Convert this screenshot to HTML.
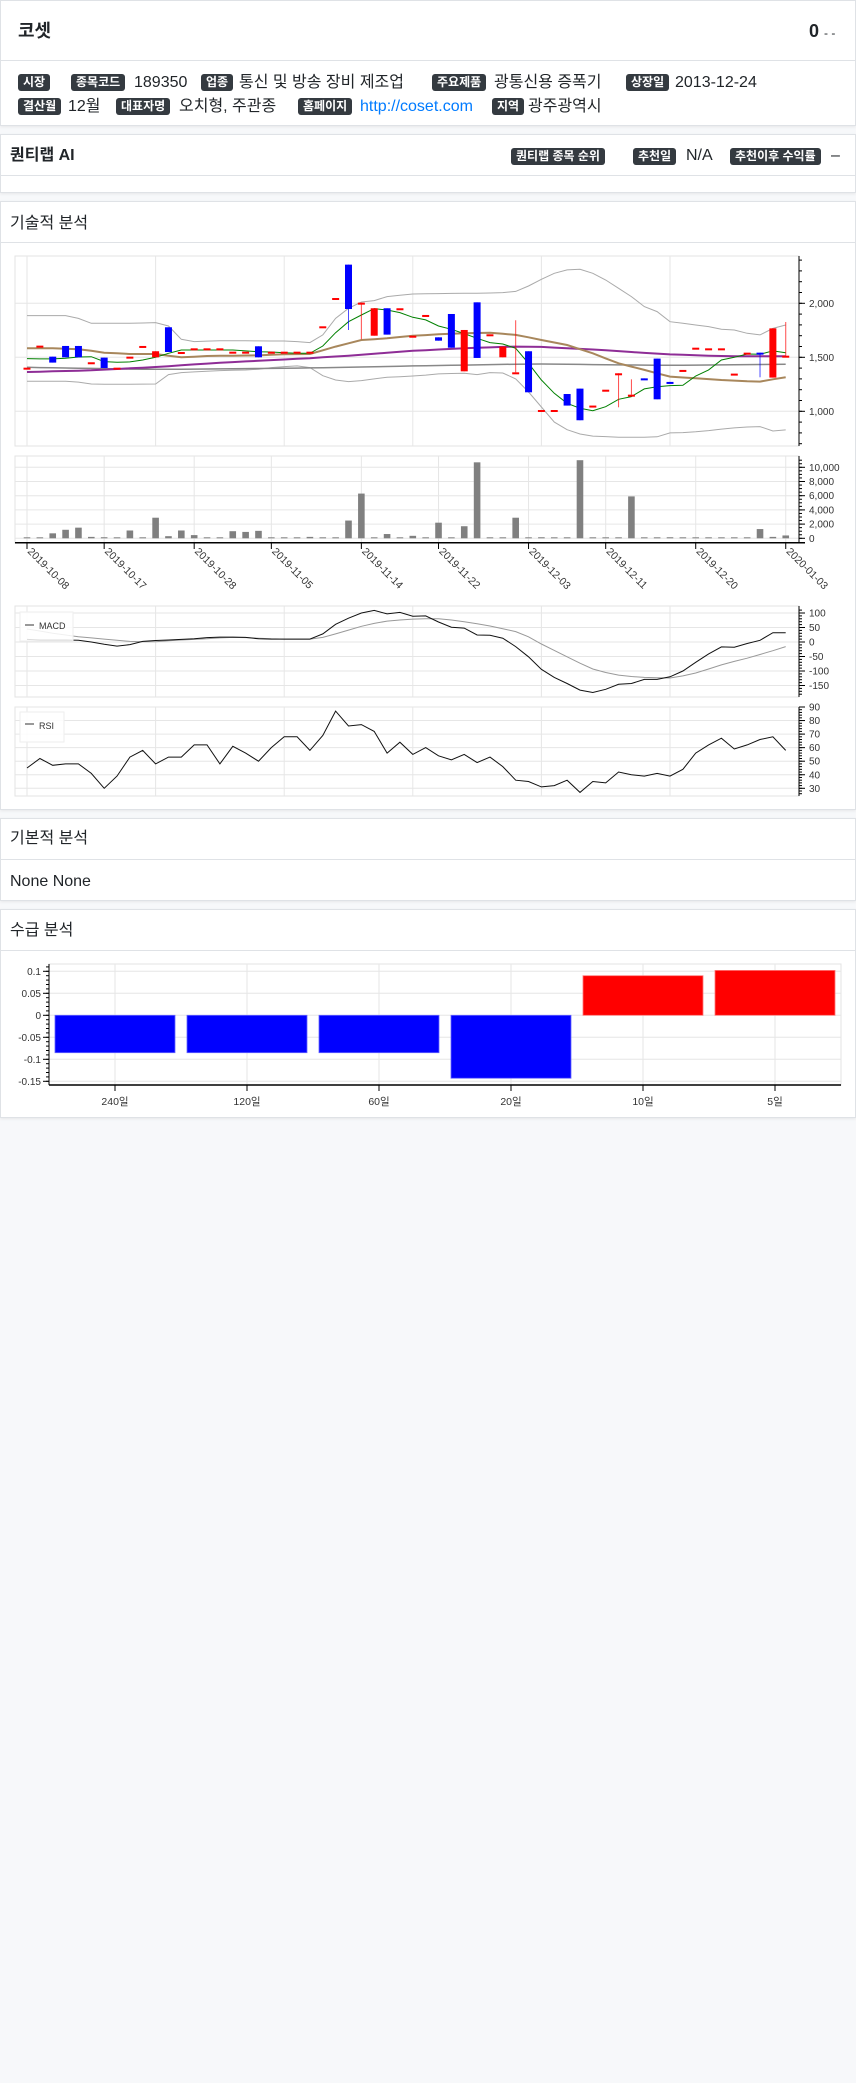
<!DOCTYPE html>
<html><head><meta charset="utf-8">
<style>
body{margin:0;background:#f7f8fa;width:856px;height:2083px;position:relative;font-family:"Liberation Sans","Noto Sans CJK KR",sans-serif;color:#212529;overflow:hidden}
.card{position:absolute;left:0;width:854px;background:#fff;border:1px solid #dfe2e6;box-shadow:0 1px 3px rgba(0,0,0,.07)}
.hd{position:absolute;left:0;right:0;top:0;border-bottom:1px solid #dfe2e6}
.t{position:absolute;white-space:nowrap;font-size:16px;line-height:18px}
.b{position:absolute;white-space:nowrap;background:#343a40;color:#fff;font-size:12px;font-weight:bold;height:17px;line-height:17px;padding:0 5px;border-radius:3px}
svg text{font-family:"Liberation Sans","Noto Sans CJK KR",sans-serif}
</style></head><body>
<div class="card" style="top:0;height:124px">
  <div class="hd" style="height:59px"></div>
  <div class="t" style="left:17px;top:20px;font-size:18px;font-weight:bold;line-height:20px">코셋</div>
  <div class="t" style="left:808px;top:20px;font-size:18px;font-weight:bold;line-height:20px">0 <span style="font-size:12px;font-weight:normal">- -</span></div>
  <span class="b" style="left:17px;top:73px">시장</span>
  <span class="b" style="left:70px;top:73px">종목코드</span>
  <span class="t" style="left:133px;top:73px">189350</span>
  <span class="b" style="left:200px;top:73px">업종</span>
  <span class="t" style="left:238px;top:73px">통신 및 방송 장비 제조업</span>
  <span class="b" style="left:431px;top:73px">주요제품</span>
  <span class="t" style="left:493px;top:73px">광통신용 증폭기</span>
  <span class="b" style="left:625px;top:73px">상장일</span>
  <span class="t" style="left:674px;top:73px">2013-12-24</span>
  <span class="b" style="left:17px;top:97px">결산월</span>
  <span class="t" style="left:67px;top:97px">12월</span>
  <span class="b" style="left:115px;top:97px">대표자명</span>
  <span class="t" style="left:178px;top:97px">오치형, 주관종</span>
  <span class="b" style="left:297px;top:97px">홈페이지</span>
  <a class="t" style="left:359px;top:97px;color:#007bff;text-decoration:none">http://coset.com</a>
  <span class="b" style="left:491px;top:97px">지역</span>
  <span class="t" style="left:527px;top:97px">광주광역시</span>
</div>
<div class="card" style="top:134px;height:57px">
  <div class="hd" style="height:40px"></div>
  <div class="t" style="left:9px;top:12px;font-weight:600">퀀티랩 AI</div>
  <span class="b" style="left:510px;top:13px">퀀티랩 종목 순위</span>
  <span class="b" style="left:632px;top:13px">추천일</span>
  <span class="t" style="left:685px;top:12px">N/A</span>
  <span class="b" style="left:729px;top:13px">추천이후 수익률</span>
  <span class="t" style="left:830px;top:12px">–</span>
</div>
<div class="card" style="top:201px;height:607px">
  <div class="hd" style="height:40px"></div>
  <div class="t" style="left:9px;top:13px">기술적 분석</div>
</div>
<div class="card" style="top:818px;height:81px">
  <div class="hd" style="height:40px"></div>
  <div class="t" style="left:9px;top:11px">기본적 분석</div>
  <div class="t" style="left:9px;top:54px">None None</div>
</div>
<div class="card" style="top:909px;height:207px">
  <div class="hd" style="height:40px"></div>
  <div class="t" style="left:9px;top:12px">수급 분석</div>
</div>
<svg id="ch" width="856" height="1130" style="position:absolute;left:0;top:0" xmlns="http://www.w3.org/2000/svg"></svg>
<script>
const dates=["2019-10-08","2019-10-17","2019-10-28","2019-11-05","2019-11-14","2019-11-22","2019-12-03","2019-12-11","2019-12-20","2020-01-03"];
const dateIdx=[0,6,13,19,26,32,39,45,52,59];
const openP=[1404,1608,1506,1605,1605,1454,1497,1404,1506,1605,1500,1778,1549,1583,1583,1583,1552,1552,1602,1552,1552,1552,1552,1787,2049,2358,2006,1700,1954,1954,1700,1892,1685,1901,1370,2009,1713,1500,1361,1556,1012,1012,1160,1210,1053,1200,1352,1154,1305,1488,1272,1383,1589,1583,1583,1349,1543,1543,1312,1515];
const closeP=[1404,1608,1451,1500,1500,1454,1401,1404,1506,1605,1556,1549,1549,1583,1583,1583,1552,1552,1500,1552,1552,1552,1552,1787,2049,1947,2006,1954,1710,1954,1700,1892,1654,1589,1753,1494,1713,1599,1361,1176,1012,1012,1053,917,1053,1200,1352,1154,1300,1111,1256,1383,1589,1583,1583,1349,1543,1530,1768,1515];
const highP=[1404,1608,1506,1605,1605,1454,1497,1404,1506,1605,1556,1778,1549,1583,1583,1583,1552,1552,1602,1552,1552,1552,1552,1787,2049,2358,2006,1954,1954,1954,1700,1892,1685,1901,1753,2009,1713,1599,1843,1556,1012,1012,1160,1210,1053,1200,1352,1296,1305,1488,1272,1383,1589,1583,1583,1349,1543,1543,1768,1827];
const lowP=[1404,1608,1451,1500,1500,1454,1401,1404,1506,1605,1500,1549,1549,1583,1583,1583,1552,1552,1500,1552,1552,1552,1552,1787,2049,1753,1667,1700,1710,1954,1700,1892,1654,1589,1370,1494,1713,1500,1361,1176,1012,1012,1053,917,1053,1200,1037,1154,1300,1111,1256,1383,1589,1583,1583,1349,1543,1315,1312,1515];
const volume=[0,0,700,1200,1500,200,150,0,1100,0,2900,300,1100,450,0,0,1000,900,1050,0,0,0,200,0,0,2500,6300,100,600,0,350,0,2200,100,1700,10700,0,0,2900,0,150,0,0,11000,0,0,0,5900,0,0,150,0,0,0,0,100,0,1300,200,400];
const ma5=[1488,1485,1485,1491,1503,1506,1460,1454,1457,1475,1500,1537,1568,1568,1568,1568,1568,1559,1552,1549,1543,1537,1537,1605,1728,1830,1892,1951,1938,1914,1870,1846,1790,1759,1719,1676,1636,1623,1583,1444,1290,1167,1074,1028,1006,1043,1111,1136,1207,1228,1238,1241,1327,1383,1475,1500,1531,1528,1559,1543];
const ma20=[1583,1583,1583,1580,1574,1560,1543,1537,1531,1531,1531,1515,1500,1506,1512,1514,1515,1517,1518,1523,1528,1530,1531,1565,1599,1630,1660,1668,1676,1688,1700,1706,1713,1718,1722,1725,1728,1718,1707,1685,1660,1637,1614,1575,1537,1490,1444,1414,1383,1352,1321,1313,1306,1298,1290,1284,1278,1275,1296,1315];
const ma60=[1364,1367,1370,1373,1376,1380,1386,1392,1398,1404,1410,1418,1426,1434,1442,1450,1456,1462,1468,1474,1480,1486,1492,1500,1507,1515,1524,1533,1542,1551,1560,1566,1572,1578,1583,1588,1592,1596,1599,1598,1596,1590,1584,1578,1572,1565,1557,1549,1541,1534,1527,1523,1519,1515,1512,1509,1509,1509,1509,1509];
const ma120=[1407,1405,1403,1401,1399,1397,1395,1393,1391,1390,1389,1389,1390,1391,1392,1393,1394,1395,1396,1397,1398,1400,1402,1404,1406,1408,1410,1412,1415,1418,1420,1422,1424,1426,1428,1430,1432,1434,1436,1437,1438,1437,1436,1434,1432,1431,1430,1429,1428,1427,1426,1427,1428,1429,1430,1431,1432,1433,1434,1435];
const bbUpper=[1886,1886,1886,1886,1860,1815,1815,1815,1815,1818,1821,1790,1667,1645,1650,1654,1654,1654,1652,1651,1651,1645,1636,1707,1861,1954,2012,2025,2062,2075,2086,2088,2090,2092,2093,2093,2095,2099,2110,2160,2222,2278,2309,2315,2278,2216,2139,2062,1969,1923,1830,1815,1799,1784,1760,1753,1722,1707,1768,1799];
const bbLower=[1278,1278,1278,1278,1270,1253,1250,1250,1250,1252,1253,1340,1358,1365,1370,1377,1380,1382,1390,1405,1414,1420,1405,1330,1290,1275,1284,1300,1315,1320,1327,1335,1346,1350,1352,1340,1358,1355,1300,1180,1040,900,830,790,770,766,760,759,760,764,800,803,810,821,835,846,855,858,818,828];
const macd=[9,7,7,7,6,0,-8,-14,-9,2,5,7,9,11,15,17,17,16,11,10,10,10,10,28,61,82,100,109,97,102,89,90,69,51,48,24,23,13,-16,-51,-94,-122,-143,-166,-174,-163,-146,-143,-129,-129,-120,-100,-70,-41,-17,-18,-5,6,32,32];
const signal=[45,38,30,24,18,14,10,6,2,1,1,4,7,9,11,14,16,15,13,11,10,10,10,16,28,41,54,64,72,76,79,80,80,76,70,63,55,46,36,18,-7,-29,-51,-73,-93,-105,-114,-119,-122,-123,-124,-117,-107,-93,-79,-67,-56,-43,-30,-16];
const rsi=[45,52,47,48,48,41,30,39,53,58,48,53,53,62,62,48,61,56,50,60,68,68,58,69,87,76,77,72,56,64,55,60,54,51,55,49,53,46,36,35,31,32,36,27,35,34,42,40,39,41,39,44,56,62,67,59,62,66,68,58];
const priceTicks=[1000,1500,2000];
const volTicks=[0,2000,4000,6000,8000,10000];
const macdTicks=[100,50,0,-50,-100,-150];
const rsiTicks=[30,40,50,60,70,80,90];
const flowCats=["240일","120일","60일","20일","10일","5일"];
const flowVals=[-0.085,-0.085,-0.085,-0.143,0.09,0.102];
const flowTicks=[0.1,0.05,0,-0.05,-0.1,-0.15];

const svg=document.getElementById('ch');
const NS='http://www.w3.org/2000/svg';
function mk(tag,at,parent){const e=document.createElementNS(NS,tag);for(const k in at)e.setAttribute(k,at[k]);(parent||svg).appendChild(e);return e;}
const X=i=>27+i*12.86;
const P=p=>357.3-(p-1500)*0.108;
const V=v=>538.3-v*0.0071;
const M=m=>642-m*0.29;
const R=r=>707+(90-r)*1.355;
const L=15,RT=799;
function fmt(n){return n.toLocaleString('en-US');}
function pane(top,bot,name){const r=mk('rect',{x:L,y:top,width:RT-L,height:bot-top,fill:'#fff',stroke:'#e3e3e3'});}
function vgrid(top,bot,xs){xs.forEach(x=>mk('line',{x1:x,x2:x,y1:top,y2:bot,stroke:'#e6e6e6'}));}
function hgrid(ys){ys.forEach(y=>mk('line',{x1:L,x2:RT,y1:y,y2:y,stroke:'#e6e6e6'}));}
function axis(top,bot,minor,fn,ticks,lab){mk('line',{x1:RT,x2:RT,y1:top,y2:bot,stroke:'#000'});
 minor.forEach(v=>{const y=fn(v);if(y>=top&&y<=bot)mk('line',{x1:RT,x2:RT+3,y1:y,y2:y,stroke:'#000'});});
 ticks.forEach(v=>{const y=fn(v);mk('line',{x1:RT,x2:RT+6,y1:y,y2:y,stroke:'#000'});const t=mk('text',{x:RT+10,y:y+3.5,'font-size':10,fill:'#333'});t.textContent=lab(v);});}
function line(arr,fn,col,w,name){const d=arr.map((v,i)=>(i?'L':'M')+X(i).toFixed(1)+' '+fn(v).toFixed(1)).join(' ');const p=mk('path',{d:d,fill:'none',stroke:col,'stroke-width':w});}
const tenX=[0,10,20,30,40,50].map(X);
// candle pane
pane(256,446,'price-pane');vgrid(256,446,tenX);hgrid(priceTicks.map(P));
const pm=[];for(let v=700;v<=2400;v+=100)pm.push(v);
axis(256,446,pm,P,priceTicks,fmt);
line(bbUpper,P,'#aaa',1,'bollinger-upper');line(bbLower,P,'#aaa',1,'bollinger-lower');
line(ma120,P,'#888',1.5,'ma120-line');line(ma60,P,'#8e2d96',2,'ma60-line');line(ma20,P,'#a8875c',2,'ma20-line');line(ma5,P,'#008000',1,'ma5-line');
openP.forEach((o,i)=>{const c=closeP[i];const col=c<o?'#0000ff':'#ff0000';const x=X(i);
 if(highP[i]!==lowP[i]){const w=mk('line',{x1:x,x2:x,y1:P(highP[i]),y2:P(lowP[i]),stroke:col,'stroke-width':1,opacity:0.7});}
 const y1=P(Math.max(o,c)),h=Math.max(2,P(Math.min(o,c))-y1);
 const r=mk('rect',{x:x-3.5,y:y1,width:7,height:h,fill:col});});
// volume pane
pane(456,543,'volume-pane');const dX=dateIdx.map(X);vgrid(456,543,dX);hgrid(volTicks.map(V));
const vm=[];for(let v=0;v<=11000;v+=500)vm.push(v);
axis(456,543,vm,V,volTicks,fmt);
volume.forEach((v,i)=>{const y=V(v);const r=mk('rect',{x:X(i)-3.3,y:Math.min(y,537.3),width:6.6,height:Math.max(1,538.3-y),fill:'#808080'});});
mk('line',{x1:L,x2:RT+6,y1:542.7,y2:542.7,stroke:'#000','stroke-width':1.5});
dates.forEach((d,k)=>{const x=X(dateIdx[k]);mk('line',{x1:x,x2:x,y1:542.7,y2:549,stroke:'#000'});
 const t=mk('text',{x:x,y:552,'font-size':10.5,fill:'#333',transform:`rotate(45 ${x} 552)`});t.textContent=d;});
// macd pane
pane(606,697,'macd-pane');vgrid(606,697,tenX);hgrid(macdTicks.map(M));
const mm=[];for(let v=-180;v<=110;v+=10)mm.push(v);
axis(606,697,mm,M,macdTicks,v=>String(v));
line(signal,M,'#999',1,'macd-signal-line');line(macd,M,'#111',1,'macd-line');
const lg=mk('rect',{x:20,y:612,width:53,height:29,fill:'#fff','fill-opacity':0.85,stroke:'#eee'});
mk('line',{x1:25,x2:34,y1:625,y2:625,stroke:'#777','stroke-width':1.5});
const mt=mk('text',{x:39,y:629,'font-size':9,fill:'#333'});mt.textContent='MACD';
// rsi pane
pane(707,796,'rsi-pane');vgrid(707,796,tenX);hgrid(rsiTicks.map(R));
const rm=[];for(let v=24;v<=90;v+=2)rm.push(v);
axis(707,796,rm,R,rsiTicks,v=>String(v));
line(rsi,R,'#111',1,'rsi-line');
const lr=mk('rect',{x:20,y:712,width:44,height:30,fill:'#fff','fill-opacity':0.85,stroke:'#eee'});
mk('line',{x1:25,x2:34,y1:724,y2:724,stroke:'#777','stroke-width':1.5});
const rt=mk('text',{x:39,y:729,'font-size':9,fill:'#333'});rt.textContent='RSI';
// flow bar chart
const FL=49,FR=841,FT=964,FB=1085;
const FY=v=>1015.3-v*440;
const FX=k=>FL+(k+0.5)*132;
const fr=mk('rect',{x:FL,y:FT,width:FR-FL,height:FB-FT,fill:'#fff',stroke:'#e3e3e3'});
flowCats.forEach((c,k)=>mk('line',{x1:FX(k),x2:FX(k),y1:FT,y2:FB,stroke:'#e6e6e6'}));
flowTicks.forEach(v=>mk('line',{x1:FL,x2:FR,y1:FY(v),y2:FY(v),stroke:'#e6e6e6'}));
flowVals.forEach((v,k)=>{const y1=Math.min(FY(v),FY(0)),h=Math.abs(FY(v)-FY(0));const col=v<0?'#0000ff':'#ff0000';
 const r=mk('rect',{x:FX(k)-60,y:y1,width:120,height:h,fill:col,stroke:v<0?'#6666ff':'#ff7777','stroke-width':0.8});});
mk('line',{x1:FL,x2:FL,y1:FT,y2:FB,stroke:'#000'});mk('line',{x1:FL,x2:FR,y1:FB,y2:FB,stroke:'#000','stroke-width':1.5});
for(let v=-0.15;v<=0.115;v+=0.01){mk('line',{x1:FL-3,x2:FL,y1:FY(v),y2:FY(v),stroke:'#000'});}
flowTicks.forEach(v=>{const y=FY(v);mk('line',{x1:FL-6,x2:FL,y1:y,y2:y,stroke:'#000'});const t=mk('text',{x:FL-8,y:y+3.5,'font-size':10,fill:'#333','text-anchor':'end'});t.textContent=String(v);});
flowCats.forEach((c,k)=>{const x=FX(k);mk('line',{x1:x,x2:x,y1:FB,y2:FB+6,stroke:'#000'});const t=mk('text',{x:x,y:1105,'font-size':10.5,fill:'#333','text-anchor':'middle'});t.textContent=c;});
</script>
</body></html>
